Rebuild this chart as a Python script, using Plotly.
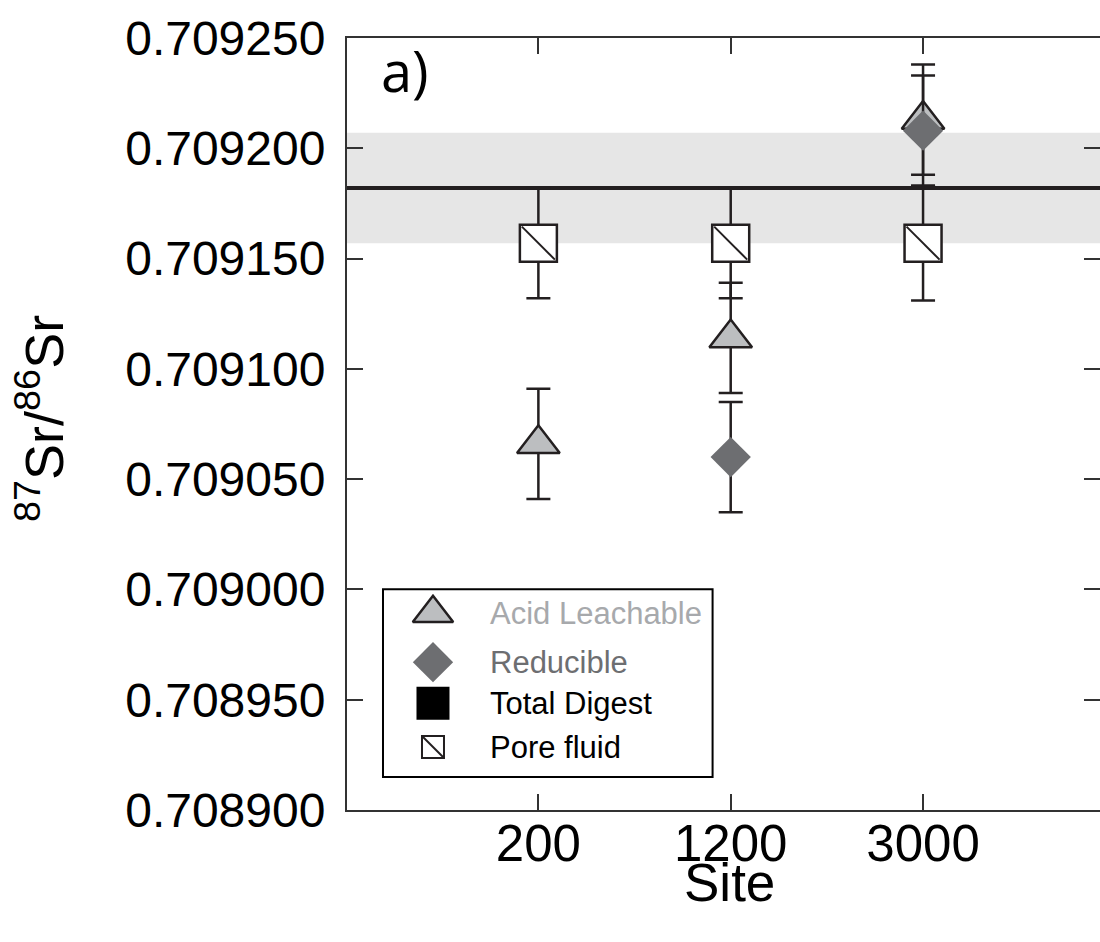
import plotly.graph_objects as go

# ---- data ----
sites = ["200", "1200", "3000"]

acid_sites = ["200", "1200", "3000"]
acid_vals = [0.709066, 0.709114, 0.709213]
acid_err = [0.000025, 0.000025, 0.000025]

red_sites = ["1200", "3000"]
red_vals = [0.709060, 0.709208]
red_err = [0.000025, 0.000025]

pore_sites = ["200", "1200", "3000"]
pore_vals = [0.709157, 0.709157, 0.709157]
pore_err = [0.000025, 0.000025, 0.000026]

seawater_mean = 0.709182
seawater_err = 0.000025

y_ticks = [0.708900, 0.708950, 0.709000, 0.709050, 0.709100, 0.709150, 0.709200, 0.709250]
y_ticktext = ["%.6f" % v for v in y_ticks]
y_range = [0.7089, 0.70925]

legend_labels = ["Acid Leachable", "Reducible", "Total Digest", "Pore fluid"]

# ---- styles ----
DARK = "#231f20"
LIGHT = "#bcbec0"
MID = "#6d6e71"
AXC = "#333333"
FONT = "Liberation Sans, Arial, sans-serif"

fig = go.Figure()

err_style = dict(type="data", color=DARK, thickness=2.5, width=12)

fig.add_trace(go.Scatter(
    x=acid_sites, y=acid_vals, mode="markers", name="Acid Leachable",
    marker=dict(symbol="triangle-up", size=37, color=LIGHT, line=dict(color=DARK, width=2.5)),
    error_y=dict(array=acid_err, **err_style), showlegend=False))

fig.add_trace(go.Scatter(
    x=red_sites, y=red_vals, mode="markers", name="Reducible",
    marker=dict(symbol="diamond", size=31, color=MID, line=dict(color=MID, width=0)),
    error_y=dict(array=red_err, **err_style), showlegend=False))

fig.add_trace(go.Scatter(
    x=[None], y=[None], mode="markers", name="Total Digest",
    marker=dict(symbol="square", size=33, color="black"), showlegend=False))

fig.add_trace(go.Scatter(
    x=pore_sites, y=pore_vals, mode="markers", name="Pore fluid",
    marker=dict(symbol="square", size=37, color="white", line=dict(color=DARK, width=2.5)),
    error_y=dict(array=pore_err, **err_style), showlegend=False))

fig.add_trace(go.Scatter(
    x=pore_sites, y=pore_vals, mode="markers", hoverinfo="skip",
    marker=dict(symbol="line-nw", size=33, line=dict(color=DARK, width=2)),
    showlegend=False))

# invisible trace on the right-side tick axis
fig.add_trace(go.Scatter(x=[None], y=[None], yaxis="y3", showlegend=False, hoverinfo="skip"))

# ---- manual legend (overlay axes in 0..1 units) ----
leg_x_sym = 0.1142
leg_x_txt = 0.1878
leg_rows = [0.2549, 0.1915, 0.1384, 0.0815]
leg_colors = ["#a7a9ac", MID, "black", "black"]

fig.add_trace(go.Scatter(x=[leg_x_sym], y=[leg_rows[0]], xaxis="x2", yaxis="y2", mode="markers",
    marker=dict(symbol="triangle-up", size=35, color=LIGHT, line=dict(color=DARK, width=2.5)),
    showlegend=False, hoverinfo="skip"))
fig.add_trace(go.Scatter(x=[leg_x_sym], y=[leg_rows[1]], xaxis="x2", yaxis="y2", mode="markers",
    marker=dict(symbol="diamond", size=31, color=MID, line=dict(width=0)),
    showlegend=False, hoverinfo="skip"))
fig.add_trace(go.Scatter(x=[leg_x_sym], y=[leg_rows[2]], xaxis="x2", yaxis="y2", mode="markers",
    marker=dict(symbol="square", size=33, color="black", line=dict(width=0)),
    showlegend=False, hoverinfo="skip"))
fig.add_trace(go.Scatter(x=[leg_x_sym], y=[leg_rows[3]], xaxis="x2", yaxis="y2", mode="markers",
    marker=dict(symbol="square", size=22, color="white", line=dict(color=DARK, width=2)),
    showlegend=False, hoverinfo="skip"))
fig.add_trace(go.Scatter(x=[leg_x_sym], y=[leg_rows[3]], xaxis="x2", yaxis="y2", mode="markers",
    marker=dict(symbol="line-nw", size=20, line=dict(color=DARK, width=2)),
    showlegend=False, hoverinfo="skip"))

annotations = []
for lbl, yy, col in zip(legend_labels, leg_rows, leg_colors):
    annotations.append(dict(x=leg_x_txt, y=yy, xref="paper", yref="paper", text=lbl,
                            showarrow=False, xanchor="left", yanchor="middle",
                            font=dict(family=FONT, size=31, color=col)))

annotations.append(dict(x=0.077, y=0.959, xref="paper", yref="paper", text="a)",
                        showarrow=False, xanchor="center", yanchor="middle",
                        font=dict(family="Open Sans, sans-serif", size=56, color="black")))
annotations.append(dict(x=0.5086, y=-0.094, xref="paper", yref="paper", text="Site",
                        showarrow=False, xanchor="center", yanchor="middle",
                        font=dict(family=FONT, size=53, color="black")))
annotations.append(dict(x=-0.4077, y=0.5065, xref="paper", yref="paper",
                        text="<sup>87</sup>Sr/<sup>86</sup>Sr", textangle=-90,
                        showarrow=False, xanchor="center", yanchor="middle",
                        font=dict(family=FONT, size=54, color="black")))

shapes = [
    dict(type="rect", xref="paper", yref="y", x0=0, x1=1,
         y0=seawater_mean - seawater_err, y1=seawater_mean + seawater_err,
         fillcolor="#e6e6e6", line=dict(width=0), layer="below"),
    dict(type="line", xref="paper", yref="y", x0=0, x1=1,
         y0=seawater_mean, y1=seawater_mean,
         line=dict(color=DARK, width=4), layer="below"),
    dict(type="rect", xref="paper", yref="paper", x0=0.0478, x1=0.4855, y0=0.0427, y1=0.2859,
         fillcolor="white", line=dict(color="black", width=2), layer="below"),
]

tick_style = dict(ticks="inside", ticklen=16, tickwidth=2, tickcolor=AXC)

fig.update_layout(
    width=1100, height=942,
    margin=dict(l=347, r=0, t=38, b=132),
    paper_bgcolor="white", plot_bgcolor="white",
    showlegend=False,
    font=dict(family=FONT, color="black"),
    xaxis=dict(type="category", categoryorder="array", categoryarray=sites,
               range=[-0.995, 2.92], showgrid=False, zeroline=False,
               showline=True, linecolor=AXC, linewidth=2, mirror="ticks",
               ticklabelstandoff=-12,
               tickfont=dict(size=51, family=FONT, color="black"), **tick_style),
    yaxis=dict(range=y_range, tickvals=y_ticks, ticktext=y_ticktext,
               showgrid=False, zeroline=False,
               showline=True, linecolor=AXC, linewidth=2, mirror=False,
               ticklabelstandoff=10,
               tickfont=dict(size=48, family=FONT, color="black"), **tick_style),
    yaxis3=dict(overlaying="y", side="right", anchor="x", range=y_range, tickvals=y_ticks,
                showticklabels=False, showgrid=False, zeroline=False, showline=False,
                **tick_style),
    xaxis2=dict(overlaying="x", range=[0, 1], visible=False, anchor="y2"),
    yaxis2=dict(overlaying="y", range=[0, 1], visible=False, anchor="x2"),
    shapes=shapes,
    annotations=annotations,
)

fig.write_html("out.html")
